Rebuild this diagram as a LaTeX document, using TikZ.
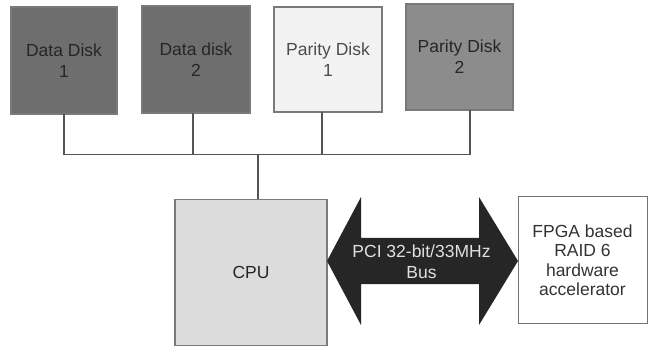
\documentclass[tikz,border=0pt]{standalone}
\usepackage{fontspec}
\setmainfont{Liberation Sans}
\definecolor{diskdark}{HTML}{6E6E6E}
\definecolor{diskmid}{HTML}{8C8C8C}
\definecolor{disklight}{HTML}{F2F2F2}
\definecolor{cpufill}{HTML}{DCDCDC}
\definecolor{busfill}{HTML}{262626}
\definecolor{edgegray}{HTML}{7A7A7A}
\definecolor{wiregray}{HTML}{555555}
\tikzset{
  box/.style={draw=edgegray, line width=1.3pt, inner sep=0pt, outer sep=0pt,
    text=black!85, align=center, font=\fontsize{17.5}{21}\selectfont},
  wire/.style={draw=wiregray, line width=1.6pt},
}
\begin{document}
\begin{tikzpicture}[x=1pt,y=-1pt]
\useasboundingbox (0,0) rectangle (650,347);
% disks
\node[box, fill=diskdark, minimum width=106pt, minimum height=107pt] (d1) at (64,60.5) {Data Disk\\1};
\node[box, fill=diskdark, minimum width=108pt, minimum height=107pt] (d2) at (196,59.5) {Data disk\\2};
\node[box, fill=disklight, text=black!70, minimum width=108pt, minimum height=105pt] (p1) at (328,59.5) {Parity Disk\\1};
\node[box, fill=diskmid, minimum width=107pt, minimum height=106pt] (p2) at (459.5,57) {Parity Disk\\2};
% host side
\node[box, fill=cpufill, minimum width=152pt, minimum height=146pt] (cpu) at (251,272.5) {CPU};
\node[box, fill=white, draw=black!55, line width=1pt, minimum width=129pt, minimum height=126pt,
  text=black!80, font=\fontsize{17.5}{19.5}\selectfont] (fpga) at (582.5,260) {FPGA based\\RAID 6\\hardware\\accelerator};
% shared disk bus
\coordinate (bl) at (64,154.5);
\coordinate (br) at (470,154.5);
\coordinate (bj) at (258,154.5);
\draw[wire] (d1.south) -- (bl) -- (br) -- (br |- p2.south);
\draw[wire] (d2.south -| 193,0) -- (bl -| 193,0);
\draw[wire] (p1.south -| 322,0) -- (bl -| 322,0);
\draw[wire] (bj) -- (bj |- cpu.north);
% PCI double arrow
\fill[busfill] (cpu.east |- 0,261) -- (361,197) -- (361,238) -- (479,238) -- (479,197)
  -- (fpga.west |- 0,261) -- (479,325) -- (479,284) -- (361,284) -- (361,325) -- cycle;
\node[text=black!12, align=center, font=\fontsize{17.5}{21}\selectfont] (bus) at (421.5,261.5) {PCI 32-bit/33MHz\\Bus};
\end{tikzpicture}
\end{document}
